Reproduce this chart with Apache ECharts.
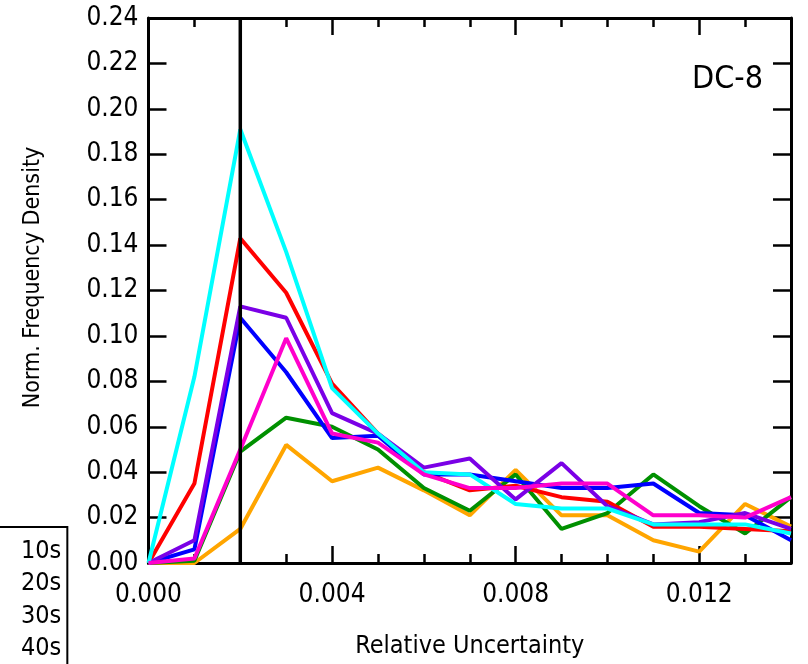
<!DOCTYPE html>
<html><head><meta charset="utf-8">
<script src="https://cdn.jsdelivr.net/npm/echarts@6/dist/echarts.min.js"></script>
<style>html,body{margin:0;padding:0;background:#fff}#c{width:808px;height:664px}</style>
</head><body><div id="c"></div><script>
// Relative uncertainty bins (x)
const relUnc = [0, 0.001, 0.002, 0.003, 0.004, 0.005, 0.006, 0.007, 0.008, 0.009, 0.010, 0.011, 0.012, 0.013, 0.014];
// Normalised frequency density per averaging time
const s10 = [0, 0.035, 0.143, 0.119, 0.079, 0.057, 0.040, 0.032, 0.034, 0.029, 0.027, 0.016, 0.016, 0.015, 0.014];
const s20 = [0, 0.001, 0.049, 0.064, 0.060, 0.050, 0.033, 0.023, 0.039, 0.015, 0.022, 0.039, 0.025, 0.013, 0.029];
const s30 = [0, 0.006, 0.108, 0.084, 0.055, 0.056, 0.039, 0.039, 0.036, 0.033, 0.033, 0.035, 0.022, 0.021, 0.010];
const s40 = [0, 0.000, 0.015, 0.052, 0.036, 0.042, 0.032, 0.021, 0.041, 0.021, 0.021, 0.010, 0.005, 0.026, 0.016];
const s50 = [0, 0.010, 0.113, 0.108, 0.066, 0.057, 0.042, 0.046, 0.028, 0.044, 0.025, 0.017, 0.018, 0.022, 0.015];
const s60 = [0, 0.002, 0.050, 0.099, 0.057, 0.053, 0.039, 0.033, 0.033, 0.035, 0.035, 0.021, 0.021, 0.020, 0.029];
const s70 = [0, 0.082, 0.191, 0.137, 0.077, 0.057, 0.040, 0.039, 0.026, 0.024, 0.024, 0.017, 0.017, 0.017, 0.013];
const seriesNames = ['10s', '20s', '30s', '40s', '50s', '60s', '70s'];
const markerX = 0.002;            // vertical reference line position
const yRange = [0, 0.24];
const xRange = [0, 0.014];
const panelLabel = 'DC-8';

const FONT = '"DejaVu Sans Condensed","DejaVu Sans",sans-serif';
const colors = {'10s':'#ff0000','20s':'#009000','30s':'#0000ff','40s':'#ffa500','50s':'#7a00e6','60s':'#ff00cc','70s':'#00ffff'};
const dataByName = {'10s':s10,'20s':s20,'30s':s30,'40s':s40,'50s':s50,'60s':s60,'70s':s70};
const drawOrder = ['40s','20s','10s','30s','50s','70s','60s'];

const chart = echarts.init(document.getElementById('c'), null, {renderer:'canvas'});
const axLine = {onZero:false, lineStyle:{color:'#000', width:3}};
const tickStyle = {color:'#000', width:2.5};
const xBase = {type:'value', min:xRange[0], max:xRange[1], splitLine:{show:false}, gridIndex:0};
const series = drawOrder.map((n, k) => ({
  name:n, type:'line', xAxisIndex:0, yAxisIndex:0,
  data: relUnc.map((x,i)=>[x, dataByName[n][i]]),
  showSymbol:false, symbol:'none',
  lineStyle:{color:colors[n], width:4}, itemStyle:{color:colors[n]},
  animation:false, z:2+k
}));
series.push({
  name:'marker', type:'line', xAxisIndex:0, yAxisIndex:0,
  data:[[markerX, yRange[0]], [markerX, yRange[1]]],
  showSymbol:false, symbol:'none', silent:true,
  lineStyle:{color:'#000', width:3.5}, animation:false, z:20
});

chart.setOption({
  animation:false,
  backgroundColor:'#fff',
  textStyle:{fontFamily:FONT},
  title:{text:panelLabel, right:40, top:59, textStyle:{fontFamily:FONT, fontSize:32, fontWeight:'normal', color:'#000'}},
  grid:{left:148.5, right:17, top:18, bottom:100.5, containLabel:false},
  legend:{
    orient:'vertical', left:-10, top:527, height:500, padding:[11,6,9,6], itemGap:7,
    itemWidth:20, itemHeight:26, icon:'none', selectedMode:false,
    borderColor:'#000', borderWidth:2,
    itemStyle:{opacity:0}, lineStyle:{opacity:0},
    textStyle:{fontFamily:FONT, fontSize:25, color:'#000'},
    data:seriesNames
  },
  xAxis:[
    Object.assign({}, xBase, {position:'bottom', interval:0.001, axisLine:axLine,
      axisTick:{inside:true, length:9, lineStyle:tickStyle}, axisLabel:{show:false},
      name:'Relative Uncertainty', nameLocation:'middle', nameGap:71,
      nameTextStyle:{fontFamily:FONT, fontSize:25, color:'#000'}}),
    Object.assign({}, xBase, {position:'bottom', interval:0.004, axisLine:{show:false, onZero:false},
      axisTick:{inside:true, length:17, lineStyle:tickStyle},
      axisLabel:{margin:19, fontFamily:FONT, fontSize:26, color:'#000',
        formatter:v => (Math.abs(v/0.004 - Math.round(v/0.004)) < 1e-6) ? v.toFixed(3) : ''}}),
    Object.assign({}, xBase, {position:'top', interval:0.001, axisLine:axLine,
      axisTick:{inside:true, length:9, lineStyle:tickStyle}, axisLabel:{show:false}}),
    Object.assign({}, xBase, {position:'top', interval:0.004, axisLine:{show:false, onZero:false},
      axisTick:{inside:true, length:17, lineStyle:tickStyle}, axisLabel:{show:false}})
  ],
  yAxis:[
    {type:'value', position:'left', min:yRange[0], max:yRange[1], interval:0.02, axisLine:axLine,
      axisTick:{inside:true, length:18, lineStyle:tickStyle}, splitLine:{show:false},
      axisLabel:{margin:10, fontFamily:FONT, fontSize:26, color:'#000', formatter:v=>v.toFixed(2)},
      name:'Norm. Frequency Density', nameLocation:'middle', nameGap:104, nameRotate:90,
      nameTextStyle:{fontFamily:FONT, fontSize:23, color:'#000', padding:[0,0,0,26]}},
    {type:'value', position:'right', min:yRange[0], max:yRange[1], interval:0.02, axisLine:axLine,
      axisTick:{inside:true, length:18, lineStyle:tickStyle}, splitLine:{show:false},
      axisLabel:{show:false}}
  ],
  series: series
});
</script></body></html>
